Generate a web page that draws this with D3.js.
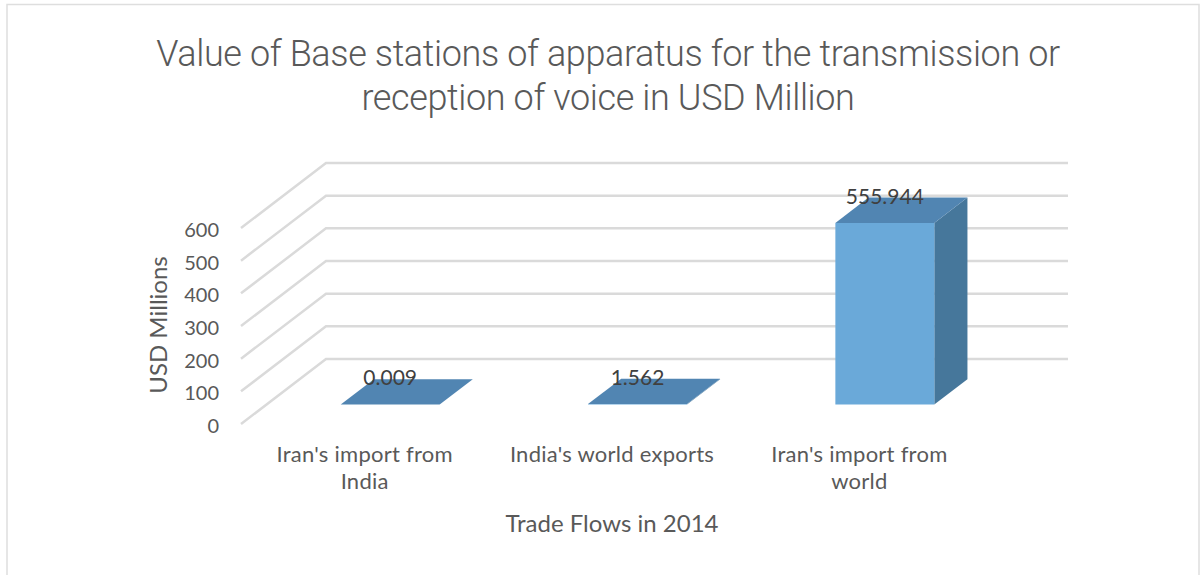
<!DOCTYPE html>
<html>
<head>
<meta charset="UTF-8">
<title>Value of Base stations</title>
<script src="https://d3js.org/d3.v7.min.js"></script>
<style>
  body { margin: 0; background: #fff; }
  .title { font: 300 36px Roboto, sans-serif; fill: #595959; text-anchor: middle; letter-spacing: -0.38px; }
  .lab { font: 21px Lato, sans-serif; fill: #595959; }
  .cat { font-size: 22px; letter-spacing: 0.25px; }
  .axis-title { font-size: 24px; }
  .tick text { font: 20px Lato, sans-serif; fill: #595959; }
  .grid { fill: none; stroke: #dadada; stroke-width: 2.5; }
</style>
</head>
<body>
<script>
var categories = ["Iran's import from India", "India's world exports", "Iran's import from world"];
var values = [0.009, 1.562, 555.944];
var valueLabels = ["0.009", "1.562", "555.944"];
var yTicks = [0, 100, 200, 300, 400, 500, 600];
var titleLines = ["Value of Base stations of apparatus for the transmission or", "reception of voice in USD Million"];
var catLines = [["Iran's import from", "India"], ["India's world exports"], ["Iran's import from", "world"]];

var svg = d3.select('body').append('svg')
  .attr('width', 1201)
  .attr('height', 575)
  .style('display', 'block');

// frame, open at the bottom
svg.append('path')
  .attr('d', 'M7,575V4.5H1199V575')
  .attr('fill', 'none')
  .attr('stroke', '#dedede')
  .attr('stroke-width', 1.5);

var x = d3.scaleBand().domain(categories).range([241, 983]).paddingInner(0.6).paddingOuter(0.3);
var y = d3.scaleLinear().domain([0, 600]).range([424, 228]);
// depth of the 3d box, 0 = front of floor, 1 = back wall
var zx = d3.scaleLinear().domain([0, 1]).range([0, 85]);
var zy = d3.scaleLinear().domain([0, 1]).range([0, -65]);

function project(px, v, z) {
  return [px + zx(z), y(v) + zy(z)];
}

svg.selectAll('.title').data(titleLines).enter().append('text')
  .attr('class', 'title')
  .attr('x', 608)
  .attr('y', (d, i) => 66 + i * 44)
  .text(d => d);

// gridlines, side wall then back wall
svg.selectAll('.grid').data(yTicks).enter().append('path')
  .attr('class', 'grid')
  .attr('d', d => d3.line()([project(241, d, 0), project(241, d, 1), project(983, d, 1)]));

var yAxis = d3.axisLeft(y).tickValues(yTicks).tickSize(0).tickPadding(0);
svg.append('g')
  .attr('transform', 'translate(219,2)')
  .call(yAxis)
  .call(g => g.select('.domain').remove());

var z0 = 0.3, z1 = 0.69;
function poly(pts) { return d3.line()(pts) + 'Z'; }

var bars = svg.selectAll('.bar').data(categories).enter().append('g').attr('class', 'bar');

// side face
bars.append('path')
  .attr('fill', '#46779b')
  .attr('d', (d, i) => {
    var r = x(d) + x.bandwidth();
    return poly([project(r, 0, z0), project(r, 0, z1), project(r, values[i], z1), project(r, values[i], z0)]);
  });
// top face
bars.append('path')
  .attr('fill', '#5185b2')
  .attr('d', (d, i) => {
    var l = x(d), r = l + x.bandwidth();
    return poly([project(l, values[i], z0), project(r, values[i], z0), project(r, values[i], z1), project(l, values[i], z1)]);
  });
// front face
bars.append('path')
  .attr('fill', '#6aa9d9')
  .attr('d', (d, i) => {
    var l = x(d), r = l + x.bandwidth();
    return poly([project(l, 0, z0), project(r, 0, z0), project(r, values[i], z0), project(l, values[i], z0)]);
  });

bars.append('text')
  .attr('class', 'lab')
  .attr('text-anchor', 'middle')
  .style('fill', '#404040')
  .attr('x', d => x(d) + x.bandwidth() / 2 + zx(z0))
  .attr('y', (d, i) => y(values[i]) + zy(z1) + 6)
  .text((d, i) => valueLabels[i]);

// category labels
categories.forEach((c, i) => {
  svg.selectAll('.cat' + i).data(catLines[i]).enter().append('text')
    .attr('class', 'lab cat cat' + i)
    .attr('text-anchor', 'middle')
    .attr('x', x(c) + x.bandwidth() / 2)
    .attr('y', (d, j) => 462 + j * 27)
    .text(d => d);
});

svg.append('text')
  .attr('class', 'lab axis-title')
  .attr('text-anchor', 'middle')
  .attr('x', 612)
  .attr('y', 532)
  .text('Trade Flows in 2014');

svg.append('text')
  .attr('class', 'lab axis-title')
  .attr('text-anchor', 'middle')
  .attr('transform', 'translate(167,325) rotate(-90)')
  .text('USD Millions');
</script>
</body>
</html>
